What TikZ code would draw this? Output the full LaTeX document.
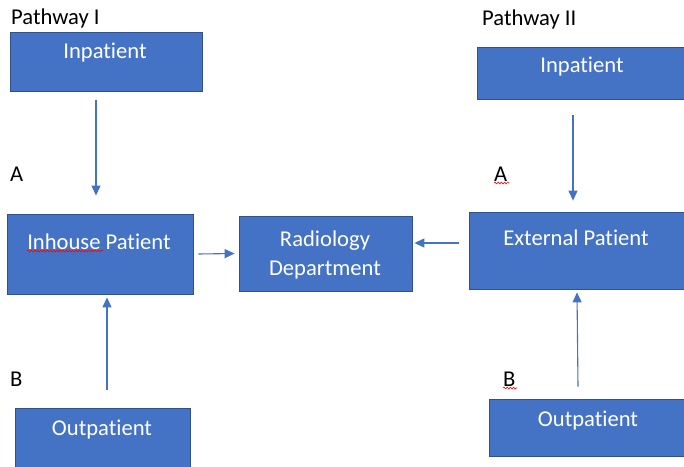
\documentclass[tikz,border=0pt]{standalone}
\usepackage{fontspec}
\setmainfont{Carlito}[Ligatures=NoCommon]
\usepackage{xcolor}
\usepackage{tikz}
\usetikzlibrary{arrows.meta,decorations.pathmorphing}
\definecolor{boxblue}{HTML}{4472C4}
\definecolor{boxedge}{HTML}{2F528F}

\begin{document}
\begin{tikzpicture}[x=1pt,y=-1pt,font=\fontsize{22.6}{29}\selectfont, box/.style={draw=boxedge,fill=boxblue,line width=0.8pt,inner sep=0pt}, boxtext/.style={text=white,align=center,inner sep=0pt}, arr/.style={draw=boxblue,line width=1.1pt,-{Triangle[length=10pt,width=9pt]}}, squiggle/.style={draw=red,line width=0.6pt,decorate,decoration={snake,amplitude=0.9pt,segment length=3.2pt}}]
\clip (0,0) rectangle (684,466);
\fill[white] (0,0) rectangle (684,466);
% pathway I
\node[anchor=west,inner sep=0pt] (p1) at (11,18) {Pathway I};
\node[box,minimum width=192pt,minimum height=59pt] (inp1) at (106,61.5) {};
\node[boxtext] (inp1t) at (105,53) {Inpatient};
\node[box,minimum width=186pt,minimum height=80pt] (inh) at (100,254) {};
\node[boxtext] (inht) at (99,242) {Inhouse Patient};
\node[box,minimum width=175pt,minimum height=62pt] (out1) at (102.5,439) {};
\node[boxtext] (out1t) at (102,430) {Outpatient};
\node[anchor=west,inner sep=0pt] (a1) at (10,174) {A};
\node[anchor=west,inner sep=0pt] (b1) at (10,379) {B};
% radiology
\node[box,minimum width=173pt,minimum height=75pt] (rad) at (325.5,253.5) {};
\node[boxtext] (radt) at (325,254.5) {Radiology\\Department};
% pathway II
\node[anchor=west,inner sep=0pt] (p2) at (482,19) {Pathway II};
\node[box,minimum width=213pt,minimum height=52pt] (inp2) at (583.5,73) {};
\node[boxtext] (inp2t) at (582,67) {Inpatient};
\node[box,minimum width=221pt,minimum height=77pt] (ext) at (579.5,250.5) {};
\node[boxtext] (extt) at (576,238) {External Patient};
\node[box,minimum width=201pt,minimum height=57pt] (out2) at (589.5,427.5) {};
\node[boxtext] (out2t) at (588,421) {Outpatient};
\node[anchor=west,inner sep=0pt] (a2) at (494,174) {A};
\node[anchor=west,inner sep=0pt] (b2) at (503,379) {B};
% connectors
\draw[arr] ([xshift=-10pt,yshift=-9pt]inp1.south) -- ([xshift=-4pt,yshift=18pt]inh.north);
\draw[arr] ([xshift=4.5pt,yshift=18pt]out1.north) -- ([xshift=7pt,yshift=-3pt]inh.south);
\draw[arr] ([xshift=5pt]inh.east) -- ([xshift=-4pt]rad.west);
\draw[arr] ([xshift=-10pt,yshift=7.5pt]ext.west) -- ([xshift=2pt,yshift=10.5pt]rad.east);
\draw[arr] ([xshift=-10.5pt,yshift=-16pt]inp2.south) -- ([xshift=-6.5pt,yshift=11pt]ext.north);
\draw[arr] ([xshift=-11.5pt,yshift=12pt]out2.north) -- ([xshift=-2.5pt,yshift=-3pt]ext.south);
% spell check marks
\draw[squiggle] ([yshift=-9pt]inht.west) -- ++(76,0);
\draw[squiggle] ([yshift=-9pt]a2.west) -- ++(15,0);
\draw[squiggle] ([yshift=-9pt]b2.west) -- ++(14,0);
\end{tikzpicture}
\end{document}
